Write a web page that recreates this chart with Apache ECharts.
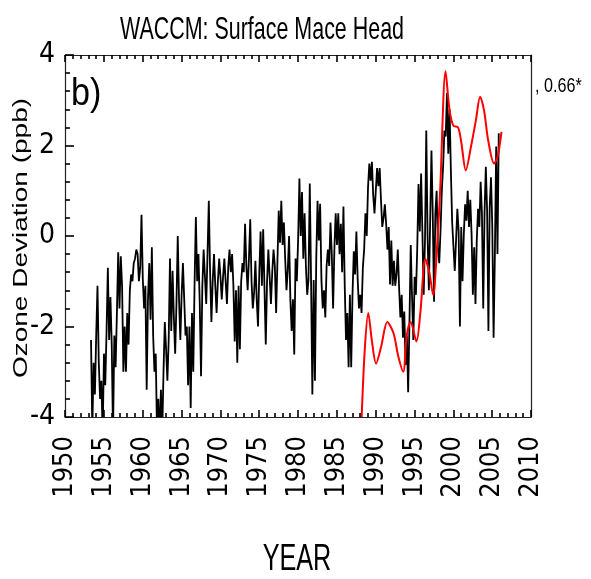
<!DOCTYPE html>
<html>
<head>
<meta charset="utf-8">
<script src="https://cdn.jsdelivr.net/npm/echarts@6/dist/echarts.min.js"></script>
<style>
  html, body { margin: 0; padding: 0; background: #fff; }
  #chart { width: 591px; height: 579px; }
</style>
</head>
<body>
<div id="chart"></div>
<script>
// black model series: one value every 2 months from 1953.35 (core, spike, core, spike ...)
const blackStart = 1953.35;
const blackStep = 1 / 6;
const blackVals = [
  -2.3, -4.3, -2.8, -3.5,                 // 1953
  -2.2, -1.1, -2.8, -3.6, -3.2, -4.4,     // 1954
  -2.6, -3.3, -2.1, -0.7, -2.3, -1.35,    // 1955
  -2.4, -4.4, -2.2, -2.9, -1.7, -0.36,    // 1956
  -1.6, -0.45, -1.1, -3.0, -2.0, -3.0,    // 1957
  -1.7, -2.4, -1.2, -0.85, -1.0, -0.6,    // 1958
  -0.5, -0.3, -0.4, -1.0, -0.7, 0.47,     // 1959
  -0.95, -1.6, -1.1, -3.4, -1.4, -0.6,    // 1960
  -1.85, -0.25, -2.2, -3.0, -2.6, -4.4,   // 1961
  -3.6, -4.5, -3.4, -4.4, -3.0, -1.9,     // 1962
  -2.5, -3.2, -2.3, -0.5, -2.1, -0.77,    // 1963
  -1.8, -2.6, -1.5, 0.0, -1.4, -2.3,      // 1964
  -1.3, -0.6, -1.4, -2.2, -2.0, -3.3,     // 1965
  -2.0, -3.8, -1.7, -3.0, -1.05, 0.42,    // 1966
  -1.0, -0.4, -1.5, -3.1, -1.1, -0.3,     // 1967
  -0.9, -1.5, -0.4, 0.78, -0.8, -1.9,     // 1968
  -1.0, -0.4, -1.1, -1.7, -1.0, -0.5,     // 1969
  -0.9, -1.4, -0.9, -0.5, -1.0, -1.5,     // 1970
  -0.7, -0.3, -0.8, -0.4, -1.1, -2.33,    // 1971
  -1.2, -2.8, -1.1, -2.5, -1.0, -0.6,     // 1972
  -0.8, 0.27, -0.66, -1.2, -0.5, 0.37,    // 1973
  -1.0, -1.6, -1.25, -0.55, -1.4, -2.0,   // 1974
  -0.8, 0.1, -1.1, 0.15, -1.15, -2.4,     // 1975
  -1.0, -0.3, -0.9, -1.5, -0.8, -0.3,     // 1976
  -0.66, -1.7, -0.58, 0.56, -0.15, 0.78,  // 1977
  -0.2, 0.3, -0.5, -1.2, -0.75, 0.0,      // 1978
  -1.4, -2.1, -1.4, -2.62, -0.5, -1.0,    // 1979
  -0.07, 1.27, 0.0, 0.97, -0.5, 0.5,      // 1980
  -0.66, -1.3, -0.97, 1.16, -1.0, -3.5,   // 1981
  -0.97, -3.2, -0.5, 0.78, -0.1, 0.71,    // 1982
  -0.97, -1.6, -1.2, -1.8, -0.66, -0.3,   // 1983
  -0.66, 0.3, -0.4, -1.6, -0.3, 0.5,      // 1984
  -0.2, 0.5, -0.4, 0.27, -0.8, 0.65,      // 1985
  -1.1, -2.3, -1.7, -2.9, -1.3, -2.9,     // 1986
  -1.3, -0.34, -0.85, 0.1, -0.95, -1.6,   // 1987
  -1.3, -1.7, -0.7, -0.3, 0.5, 0.0,       // 1988
  1.08, 1.6, 1.22, 1.64, 0.9, 0.5,        // 1989
  1.0, 1.5, 1.1, 1.5, 0.8, 0.2,           // 1990
  0.4, 0.7, 0.27, -0.3, 0.2, -1.07,       // 1991
  -0.1, -1.1, -0.55, -1.1, -0.85, -0.3,   // 1992
  -1.14, -1.8, -1.3, -2.25, -1.67, -2.85, // 1993
  -2.2, -3.45, -1.9, -0.2, -1.35, -2.3,   // 1994
  -0.9, -1.3, -0.3, 1.15, 0.1, 1.38,      // 1995
  0.1, -1.3, -0.1, 2.33, 0.0, -1.2,       // 1996
  0.34, 1.89, 0.49, -1.45, 0.5, 1.0,      // 1997
  -0.25, -0.6, 0.1, 1.0, 1.53, 2.33,      // 1998
  2.2, 3.16, 1.82, 2.8, 1.45, 0.3,        // 1999
  0.3, -0.77, -0.1, 0.6, 0.1, -2.0,       // 2000
  0.2, -1.0, 0.04, 0.7, 0.34, 1.0,        // 2001
  0.2, 0.8, 0.04, -1.3, -0.25, -1.5,      // 2002
  -0.1, 0.6, 0.2, 1.2, 0.5, -1.6,         // 2003
  0.5, 1.53, 0.56, -2.1, 0.64, 1.3,       // 2004
  0.2, -2.25, -0.4, 1.98, -0.4, 2.27      // 2005
];

// red observed curve
const redYears = [1988.15, 1988.6, 1989.05, 1989.5, 1990.05, 1990.7, 1991.5, 1992.3, 1992.9,
  1993.55, 1994.0, 1994.5, 1995.25, 1995.75, 1996.4, 1996.9, 1997.4, 1997.9, 1998.3,
  1999.0, 1999.5, 2000.0, 2000.6, 2001.0, 2001.6, 2002.3, 2002.9, 2003.45, 2003.95,
  2004.5, 2005.25, 2005.7, 2006.2];
const redVals = [-4.2, -2.5, -1.7, -2.3, -2.82, -2.45, -1.9, -2.15, -2.65,
  -3.0, -2.2, -1.9, -2.33, -1.7, -0.5, -0.8, -1.3, -0.25, 1.0,
  3.64, 2.8, 2.44, 2.4, 2.1, 1.45, 2.0, 2.55, 3.08, 2.78,
  2.1, 1.6, 1.75, 2.3];

const chart = echarts.init(document.getElementById('chart'));
const font = "'Liberation Sans', Arial, sans-serif";
const narrow = "'Liberation Sans Narrow', 'DejaVu Sans Condensed', 'Liberation Sans', sans-serif";
const axisColor = '#222';
const tickStyle = { color: '#000', width: 1.6 };

const blackData = blackVals.map((v, i) => [blackStart + i * blackStep, v]);
const redData = redYears.map((y, i) => [y, redVals[i]]);

const option = {
  animation: false,
  backgroundColor: '#fff',
  grid: { left: 65, right: 60, top: 55, bottom: 162 },
  xAxis: [
    {
      type: 'value', position: 'bottom', min: 1950, max: 2010, interval: 5, z: 5,
      axisLine: { show: true, onZero: false, lineStyle: { color: axisColor, width: 1.2 } },
      axisTick: { show: true, inside: true, length: 7, lineStyle: tickStyle },
      minorTick: { show: true, splitNumber: 5, length: 4, lineStyle: tickStyle },
      splitLine: { show: false },
      axisLabel: { rotate: 90, margin: 19, fontSize: 27, fontFamily: narrow, color: '#000',
        formatter: (v) => String(v) }
    },
    {
      type: 'value', position: 'top', min: 1950, max: 2010, interval: 5, z: 5,
      axisLine: { show: true, onZero: false, lineStyle: { color: axisColor, width: 1.2 } },
      axisTick: { show: true, inside: true, length: 7, lineStyle: tickStyle },
      minorTick: { show: true, splitNumber: 5, length: 4, lineStyle: tickStyle },
      splitLine: { show: false },
      axisLabel: { show: false }
    }
  ],
  yAxis: [
    {
      type: 'value', position: 'left', min: -4, max: 4, interval: 2, z: 5,
      axisLine: { show: true, onZero: false, lineStyle: { color: axisColor, width: 1.2 } },
      axisTick: { show: true, inside: true, length: 9, lineStyle: tickStyle },
      minorTick: { show: true, splitNumber: 5, length: 5, lineStyle: tickStyle },
      splitLine: { show: false },
      axisLabel: { margin: 10, fontSize: 28, fontFamily: narrow, color: '#000' }
    },
    {
      type: 'value', position: 'right', min: -4, max: 4, interval: 2, z: 5,
      axisLine: { show: true, onZero: false, lineStyle: { color: axisColor, width: 1.2 } },
      axisTick: { show: false },
      splitLine: { show: false },
      axisLabel: { show: false }
    }
  ],
  series: [
    {
      name: 'WACCM', type: 'line', data: blackData, xAxisIndex: 0, yAxisIndex: 0,
      showSymbol: false, clip: true,
      lineStyle: { color: '#000', width: 1.8 }
    },
    {
      name: 'Observed', type: 'line', data: redData, xAxisIndex: 0, yAxisIndex: 0,
      showSymbol: false, clip: true, smooth: 0.3,
      lineStyle: { color: '#ff0000', width: 2 }
    }
  ],
  graphic: [
    {
      type: 'text', x: 262, y: 30, scaleX: 0.67,
      style: { text: 'WACCM: Surface Mace Head', fontSize: 32, fontFamily: font, fill: '#000',
        align: 'center', verticalAlign: 'middle', textAlign: 'center', textVerticalAlign: 'middle' }
    },
    {
      type: 'text', x: 297, y: 560, scaleX: 0.7,
      style: { text: 'YEAR', fontSize: 36, fontFamily: font, fill: '#000',
        align: 'center', verticalAlign: 'middle', textAlign: 'center', textVerticalAlign: 'middle' }
    },
    {
      type: 'text', x: 71, y: 95, scaleX: 0.9,
      style: { text: 'b)', fontSize: 38, fontFamily: font, fill: '#000',
        align: 'left', verticalAlign: 'middle', textAlign: 'left', textVerticalAlign: 'middle' }
    },
    {
      type: 'text', x: 535, y: 86, scaleX: 0.77,
      style: { text: ', 0.66*', fontSize: 21, fontFamily: font, fill: '#000',
        align: 'left', verticalAlign: 'middle', textAlign: 'left', textVerticalAlign: 'middle' }
    },
    {
      type: 'text', x: 21, y: 238, rotation: Math.PI / 2, scaleY: 0.75,
      style: { text: 'Ozone Deviation (ppb)', fontSize: 28, fontFamily: font, fill: '#000',
        align: 'center', verticalAlign: 'middle', textAlign: 'center', textVerticalAlign: 'middle' }
    }
  ]
};

chart.setOption(option);
</script>
</body>
</html>
